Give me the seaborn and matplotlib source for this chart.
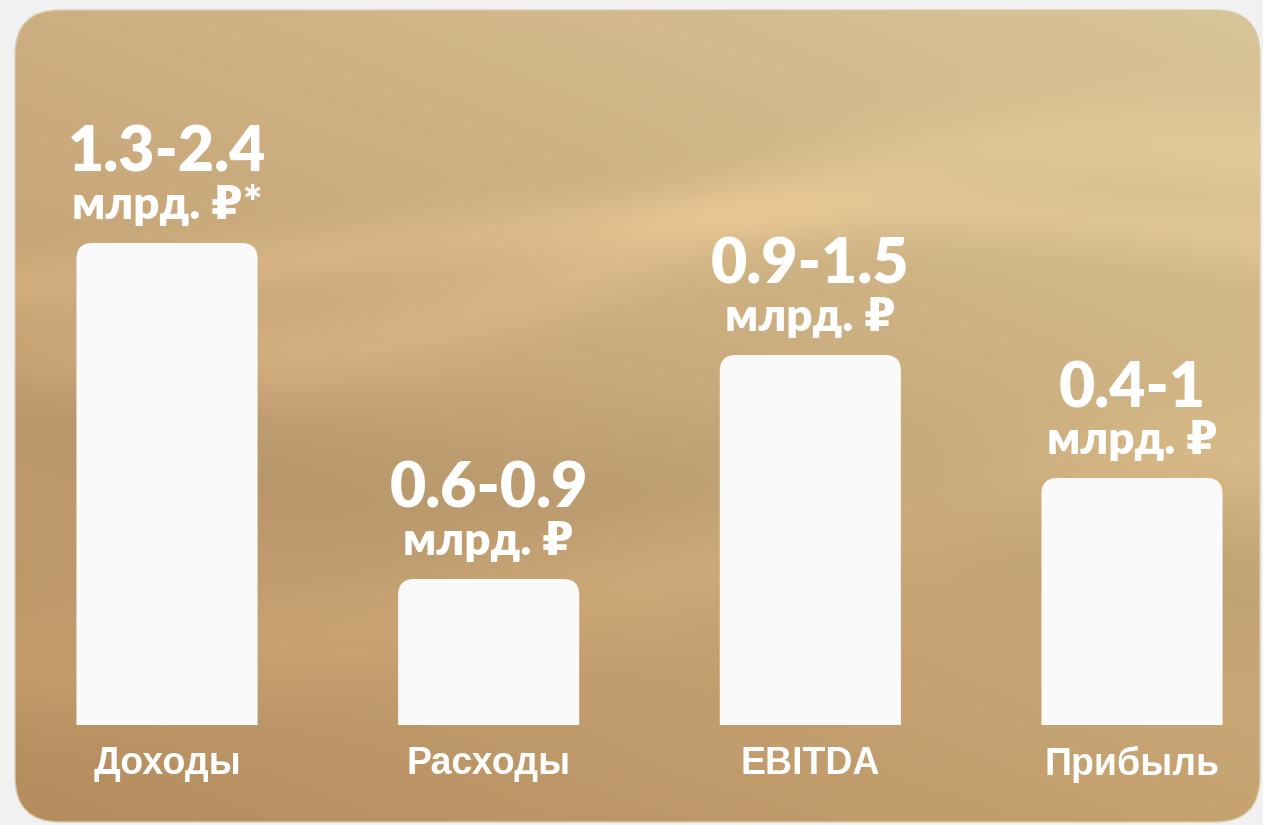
import matplotlib
matplotlib.use("Agg")
import matplotlib.pyplot as plt
import numpy as np
import pandas as pd
import seaborn as sns
from matplotlib.patches import FancyBboxPatch

# data (bar heights in relative units, 1 unit ~ 200 px)
categories = ["Доходы", "Расходы", "EBITDA", "Прибыль"]
bar_heights = [2.41, 0.73, 1.85, 1.235]
range_labels = ["1.3-2.4", "0.6-0.9", "0.9-1.5", "0.4-1"]
unit_labels = ["млрд. ₽*", "млрд. ₽", "млрд. ₽", "млрд. ₽"]

W, H = 1263, 825


def card_background(ax):
    ys, xs = np.mgrid[0:H:2, 0:W:2].astype(float)
    u, v = xs / W, ys / H
    tl = np.array([206, 175, 129])
    tr = np.array([217, 197, 152])
    bl = np.array([180, 140, 94])
    br = np.array([198, 162, 112])
    img = ((1 - u) * (1 - v))[..., None] * tl + (u * (1 - v))[..., None] * tr \
        + ((1 - u) * v)[..., None] * bl + (u * v)[..., None] * br
    # soft silk-like waves
    light1 = 330 - 150 * u + 60 * np.sin(u * 5.5 + 0.4)
    light2 = 250 + 40 * np.sin(u * 4 + 2.0)
    dark1 = 380 + 220 * u + 40 * np.sin(u * 6)
    light3 = 620 - 120 * u + 50 * np.sin(u * 3.5 + 1)
    glow = 12 * np.exp(-((ys - light1) / 45) ** 2) + 12 * np.exp(-((ys - light2) / 30) ** 2) \
        + 10 * np.exp(-((ys - light3) / 60) ** 2) - 9 * np.exp(-((ys - dark1) / 80) ** 2)
    img = img + glow[..., None] * np.array([1.0, 0.85, 0.6])
    img = np.clip(img, 0, 255) / 255
    im = ax.imshow(img, extent=(0, W, H, 0), interpolation="bilinear", zorder=0)
    card = FancyBboxPatch((15, 10), 1245, 812, boxstyle="round,pad=0,rounding_size=45",
                          facecolor="none", edgecolor="#d9cbb0", linewidth=1.0, zorder=1)
    ax.add_patch(card)
    im.set_clip_path(card)


def main():
    df = pd.DataFrame({"category": categories, "height": bar_heights})

    fig = plt.figure(figsize=(W / 100, H / 100), dpi=100, facecolor="#f1f1f1")
    bg = fig.add_axes([0, 0, 1, 1], zorder=0)
    bg.set_xlim(0, W)
    bg.set_ylim(H, 0)
    bg.axis("off")
    card_background(bg)

    # 4 bars, 321.67 px apart, first center at x=167, baseline at y=725
    step = 321.67
    left = 167 - 0.4 * step
    ax = fig.add_axes([left / W, 100 / H, 3.8 * step / W, 650 / H], zorder=1)
    ax.patch.set_alpha(0)
    sns.barplot(data=df, x="category", y="height", color="#fafafa", width=0.563,
                saturation=1, ax=ax, zorder=2)
    ax.set_xlim(-0.4, 3.4)
    ax.set_ylim(0, 3.25)

    # round the top corners only: the box starts below the axis and is clipped there
    r_x = 16 / step
    aspect = (1 / 200) / (1 / step)
    for patch in list(ax.patches):
        x0, w, h = patch.get_x(), patch.get_width(), patch.get_height()
        patch.set_visible(False)
        ax.add_patch(FancyBboxPatch((x0, -0.3), w, h + 0.3,
                                    boxstyle=f"round,pad=0,rounding_size={r_x}",
                                    mutation_aspect=aspect, facecolor="#fafafa",
                                    edgecolor="none", zorder=2))

    value_font = ["Lato", "DejaVu Sans"]
    for i, (h, rng, unit) in enumerate(zip(bar_heights, range_labels, unit_labels)):
        ax.annotate(rng, (i, h), xytext=(0, 71), textcoords="offset pixels", ha="center",
                    va="baseline", fontsize=45, fontweight="heavy", color="white", family=value_font)
        ax.annotate(unit, (i, h), xytext=(0, 24), textcoords="offset pixels", ha="center",
                    va="baseline", fontsize=33, fontweight="heavy", color="white", family=value_font)

    ax.set_xlabel("")
    ax.set_ylabel("")
    ax.set_yticks([])
    ax.tick_params(axis="x", length=0, pad=15)
    for lbl in ax.get_xticklabels():
        lbl.set_family(["Liberation Sans", "DejaVu Sans"])
        lbl.set_fontweight("bold")
        lbl.set_fontsize(27)
        lbl.set_color("white")
    sns.despine(ax=ax, left=True, bottom=True)

    fig.savefig("out.png", dpi=100, facecolor=fig.get_facecolor())
    plt.close(fig)


if __name__ == "__main__":
    main()
